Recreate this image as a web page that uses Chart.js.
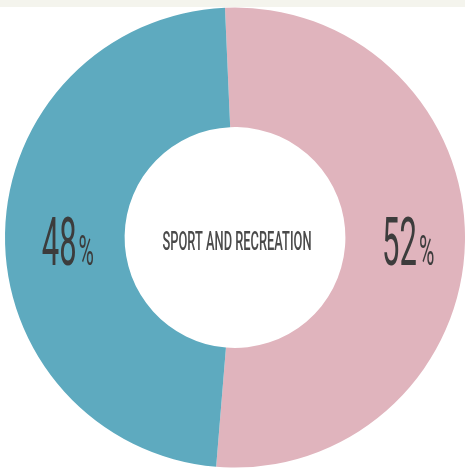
<!DOCTYPE html>
<html>
<head>
<meta charset="utf-8">
<script src="https://cdn.jsdelivr.net/npm/chart.js@4/dist/chart.umd.min.js"></script>
<style>
  html, body { margin: 0; padding: 0; background: #ffffff; }
  #strip { width: 465px; height: 7px; background: #f4f4ed; }
  #wrap { width: 465px; height: 461px; position: relative; }
</style>
</head>
<body>
<div id="strip"></div>
<div id="wrap"><canvas id="c" width="465" height="461"></canvas></div>
<script>
const categories = ['Segment A', 'Segment B'];
const values = [52, 48];
const valueLabels = ['52', '48'];
const centerTitle = 'SPORT AND RECREATION';
const colors = ['#e0b4bd', '#5eaabf'];

function drawCondensed(ctx, text, x, y, font, scaleX, align) {
  ctx.save();
  ctx.font = font;
  const w = ctx.measureText(text).width * scaleX;
  let left = x;
  if (align === 'center') left = x - w / 2;
  else if (align === 'right') left = x - w;
  ctx.translate(left, y);
  ctx.scale(scaleX, 1);
  ctx.textAlign = 'left';
  ctx.textBaseline = 'alphabetic';
  ctx.fillText(text, 0, 0);
  ctx.restore();
  return w;
}

const labelPlugin = {
  id: 'labels',
  afterDraw(chart) {
    const ctx = chart.ctx;
    const meta = chart.getDatasetMeta(0);
    const arc0 = meta.data[0];
    const cx = arc0.x, cy = arc0.y;
    // center title
    ctx.save();
    ctx.fillStyle = '#4a4a4a';
    const tFont = '500 26px Roboto';
    ctx.font = tFont;
    const tw = ctx.measureText(centerTitle).width;
    const sx = 149 / tw;
    drawCondensed(ctx, centerTitle, cx + 2, cy + 12, tFont, sx, 'center');
    ctx.restore();
    // percentage labels
    meta.data.forEach((arc, i) => {
      const p = arc.getCenterPoint();
      const num = valueLabels[i];
      const bigFont = '400 66px Roboto';
      const smallFont = '400 42px Roboto';
      const scaleBig = 0.47;
      const scaleSmall = 0.5;
      ctx.save();
      ctx.fillStyle = '#3c3c3c';
      ctx.font = bigFont;
      const wNum = ctx.measureText(num).width * scaleBig;
      ctx.font = smallFont;
      const wPct = ctx.measureText('%').width * scaleSmall;
      const total = wNum + 2 + wPct;
      const left = p.x + 3 - total / 2;
      const base = cy + 27;
      drawCondensed(ctx, num, left, base, bigFont, scaleBig, 'left');
      drawCondensed(ctx, '%', left + wNum + 2, base, smallFont, scaleSmall, 'left');
      ctx.restore();
    });
  }
};

new Chart(document.getElementById('c'), {
  type: 'doughnut',
  data: {
    labels: categories,
    datasets: [{
      data: values,
      backgroundColor: colors,
      borderWidth: 0,
      hoverOffset: 0
    }]
  },
  options: {
    responsive: false,
    animation: false,
    cutout: '48%',
    rotation: -2.5,
    layout: { padding: { left: 5, right: 0, top: 0, bottom: 0 } },
    plugins: {
      legend: { display: false },
      tooltip: { enabled: false }
    }
  },
  plugins: [labelPlugin]
});
</script>
</body>
</html>
